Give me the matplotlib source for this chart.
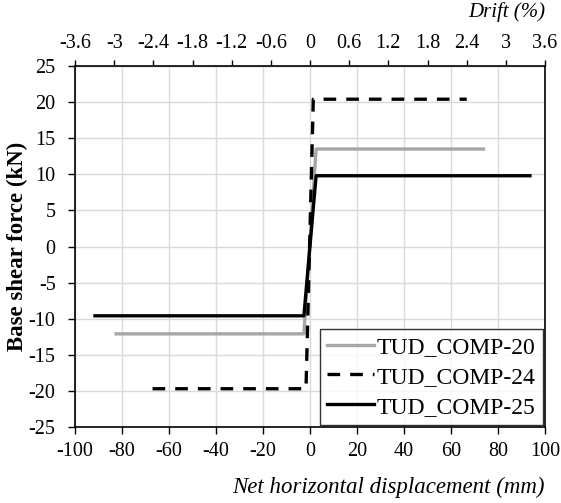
import matplotlib
matplotlib.use("Agg")
import matplotlib.pyplot as plt

plt.rcParams['font.family'] = ['Liberation Serif', 'DejaVu Serif']
plt.rcParams['axes.unicode_minus'] = False

# bilinear backbone curves (displacement mm, force kN)
comp20_x = [-82.5, -2.6, 2.6, 73.8]
comp20_y = [-12.1, -12.1, 13.5, 13.5]
comp24_x = [-67.0, -1.7, 1.4, 66.7]
comp24_y = [-19.7, -19.7, 20.4, 20.4]
comp25_x = [-91.5, -2.6, 2.6, 93.6]
comp25_y = [-9.6, -9.6, 9.8, 9.8]

x_ticks = list(range(-100, 101, 20))
y_ticks = list(range(-25, 26, 5))
drift_ticks = [-3.6, -3, -2.4, -1.8, -1.2, -0.6, 0, 0.6, 1.2, 1.8, 2.4, 3, 3.6]
drift_labels = ['-3.6', '-3', '-2.4', '-1.8', '-1.2', '-0.6', '0', '0.6', '1.2', '1.8', '2.4', '3', '3.6']

fig = plt.figure(figsize=(5.61, 5.03), dpi=100)
ax = fig.add_axes([75/561, 1-427/503, 470/561, 361/503])

ax.plot(comp20_x, comp20_y, color='#a6a6a6', lw=2.4, label='TUD_COMP-20')
ax.plot(comp24_x, comp24_y, color='black', lw=2.4, dashes=(3.8, 3.0), label='TUD_COMP-24')
ax.plot(comp25_x, comp25_y, color='black', lw=2.4, label='TUD_COMP-25')

ax.set_xlim(-100, 100)
ax.set_ylim(-25, 25)
ax.set_xticks(x_ticks)
ax.set_yticks(y_ticks)
ax.grid(True, color='#d9d9d9', lw=1.0)
ax.set_axisbelow(True)
ax.tick_params(axis='both', labelsize=14.5, length=5, width=1, direction='out')
ax.tick_params(axis='y', pad=9)
ax.tick_params(axis='x', pad=6)
for s in ax.spines.values():
    s.set_linewidth(1.2)

sec = ax.secondary_xaxis('top', functions=(lambda x: x * 0.036, lambda d: d / 0.036))
sec.set_xticks(drift_ticks)
sec.set_xticklabels(drift_labels)
sec.tick_params(labelsize=14.5, length=4, width=1, direction='out', pad=5)

ax.set_ylabel('Base shear force (kN)', fontsize=16.5, fontweight='bold')
ax.yaxis.set_label_coords(-0.1, 0.5)
fig.text(545/561, 1-487/503, 'Net horizontal displacement (mm)', ha='right', va='center',
         fontsize=16.5, style='italic')
fig.text(545/561, 1-12/503, 'Drift (%)', ha='right', va='center', fontsize=15, style='italic')

leg = ax.legend(loc='lower right', fontsize=17, frameon=True, fancybox=False, shadow=False,
                borderaxespad=0.1, handlelength=2.0, handletextpad=0.1, labelspacing=0.35,
                borderpad=0.3)
leg.get_frame().set_edgecolor('black')
leg.get_frame().set_linewidth(1.0)

fig.savefig('out.png', dpi=100)
